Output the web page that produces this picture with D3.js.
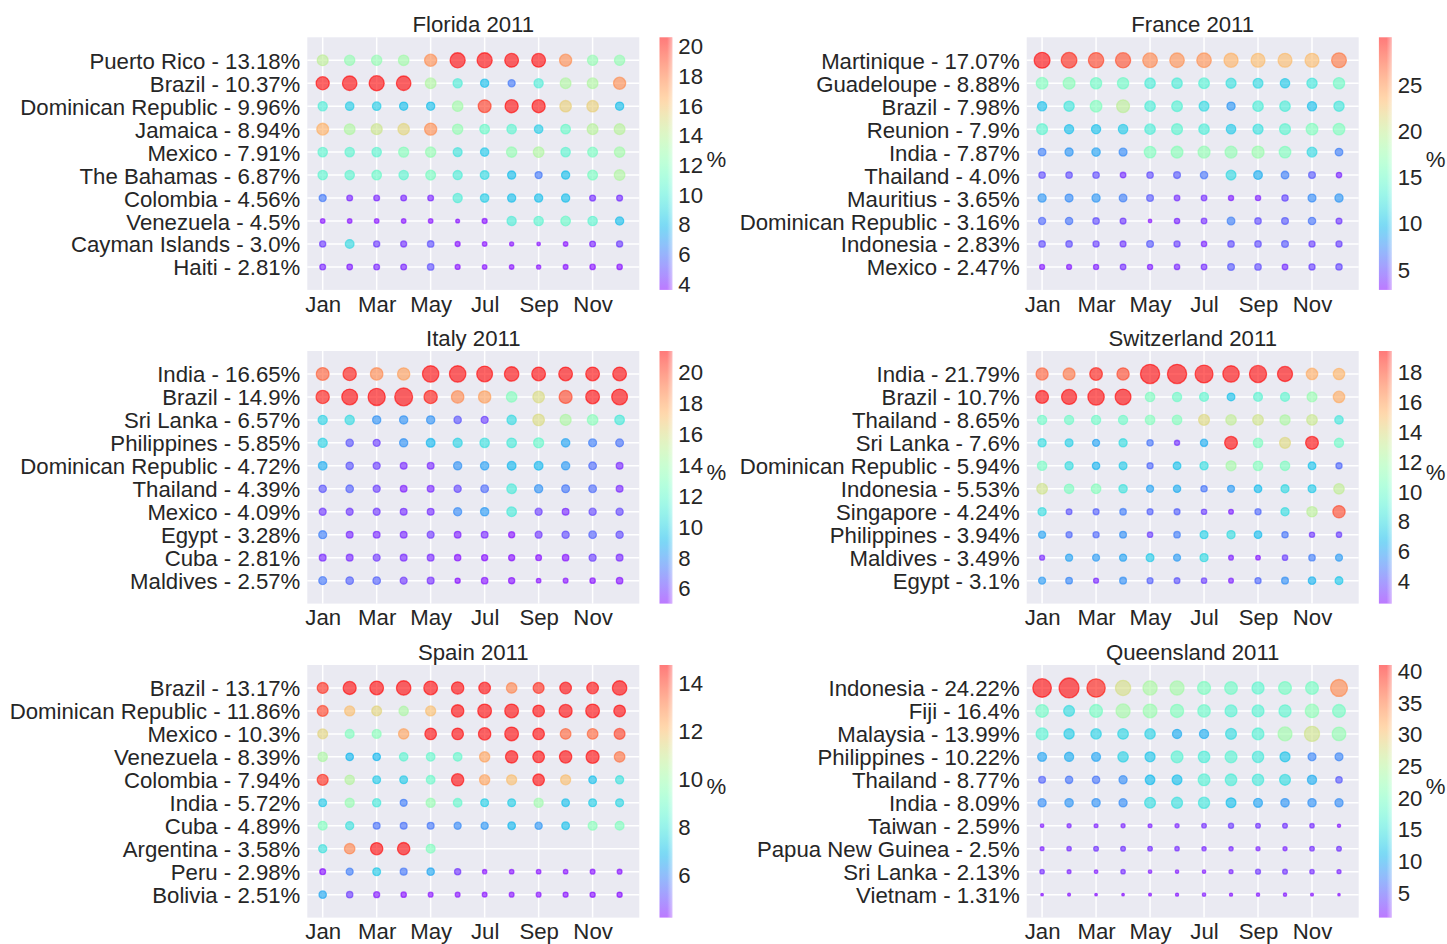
<!DOCTYPE html>
<html><head><meta charset="utf-8">
<script src="https://cdn.jsdelivr.net/npm/d3@7"></script>
<style>
body{margin:0;background:#fff}
svg{display:block}
text{font-family:"Liberation Sans",Arial,Helvetica,sans-serif;fill:#262626}
</style>
</head><body>
<svg id="chart" width="1447" height="944"></svg>
<script>
const months = ["Jan","Feb","Mar","Apr","May","Jun","Jul","Aug","Sep","Oct","Nov","Dec"];
const monthTickIdx = [0,2,4,6,8,10];

// ---------- Florida ----------
const floridaLabels = ["Puerto Rico - 13.18%","Brazil - 10.37%","Dominican Republic - 9.96%","Jamaica - 8.94%","Mexico - 7.91%","The Bahamas - 6.87%","Colombia - 4.56%","Venezuela - 4.5%","Cayman Islands - 3.0%","Haiti - 2.81%"];
const floridaValues = [
  [14,12.5,12.5,13,17.5,27,27,22.5,22.5,17.5,12.5,12.5],
  [20.5,25,27,25,13.5,10,8,6,10,13.5,13.5,17.5],
  [10,8.5,8.5,8,8,13,19.5,20.5,20.5,15.5,15.5,8],
  [16.5,13.5,14.5,15.3,17.5,12.5,11,10.5,8.5,11,13.8,13.8],
  [10.5,10.5,10.5,12,12.5,9.5,8.3,12.5,13.5,10.5,11.5,13],
  [10.5,10.5,11,10.5,11.5,10,9,8,6,8,11.5,13.5],
  [6,4,4,4,4,10,8.5,8,8,8,4.2,4.2],
  [2.5,2.5,2.5,2.5,2.5,1.8,3,10,10.5,11,10.5,8],
  [4.5,9,4.5,4.3,5,3,2.5,2,1.5,2.5,4,4.5],
  [4,3.8,4,4,5,3,2.5,2.5,2.2,2.8,3.5,3.5]
];
const floridaRange = [3.55, 20.56];
const floridaTicks = [4,6,8,10,12,14,16,18,20];

// ---------- France ----------
const franceLabels = ["Martinique - 17.07%","Guadeloupe - 8.88%","Brazil - 7.98%","Reunion - 7.9%","India - 7.87%","Thailand - 4.0%","Mauritius - 3.65%","Dominican Republic - 3.16%","Indonesia - 2.83%","Mexico - 2.47%"];
const franceValues = [
  [30,29,28,27.5,25.5,25,25,23.5,23,23,23,26],
  [16,16.5,15,15,13,13,13.5,12,11.5,10.5,12.5,15],
  [10,12.5,16,19.5,13,13.5,11.5,8,13,13,10,12.5],
  [14,10,10,10.5,13,14,13,10.5,12,14,16,16],
  [7,8,8.5,7.5,16,16.5,17,17,17.5,16,11.5,7],
  [5,5,5,3.8,5,5.5,6.5,11.5,9,7,5.5,3.5],
  [8,7.5,8,7,5.5,3.8,3.8,3.2,3.3,4.8,7.5,8],
  [6,6.5,5,4.2,1.5,3.5,3.8,7,5,5.5,6.5,4.2],
  [5,5,4.5,4.2,5.5,4.5,3.5,5,5,5.5,4.5,4.5],
  [3,3,3.2,3.8,3.2,3.5,3.8,5.5,5,3.8,4.5,4.8]
];
const franceRange = [2.77, 30.05];
const franceTicks = [5,10,15,20,25];

// ---------- Italy ----------
const italyLabels = ["India - 16.65%","Brazil - 14.9%","Sri Lanka - 6.57%","Philippines - 5.85%","Dominican Republic - 4.72%","Thailand - 4.39%","Mexico - 4.09%","Egypt - 3.28%","Cuba - 2.81%","Maldives - 2.57%"];
const italyValues = [
  [19.5,21,18.5,18,32,32,29.7,24.8,22.4,22.4,22.4,22.4],
  [21,29.7,35,38,21,18.5,18,13,16,20,22.4,29.7],
  [10,10.3,8,8,8,6.5,6,10.3,16,14.5,13.2,11],
  [10,6.5,6,8,9,10,10.5,11,12,8.5,7.5,7.2],
  [8.7,6.5,6,5.5,5.5,8,8.3,9,9,8.2,7,5.5],
  [6.5,6.8,6,5.3,5.5,6.2,7,11,8,7.3,7,5.5],
  [5.8,5.8,5.8,5.6,5.6,7.8,8.2,11,6,5.5,6.2,6.2],
  [7.5,5.5,5.5,5.5,5.8,5.3,5.5,4.5,5.8,6.3,6.8,6.3],
  [5.5,5.5,5.8,5.5,5.5,4.8,4.5,4.5,4,5,6,5.5],
  [7.3,6.8,6.8,5.8,5.6,3.2,5,4.6,2.5,2.8,3.5,5]
];
const italyRange = [4.99, 21.34];
const italyTicks = [6,8,10,12,14,16,18,20];

// ---------- Switzerland ----------
const switzerlandLabels = ["India - 21.79%","Brazil - 10.7%","Thailand - 8.65%","Sri Lanka - 7.6%","Dominican Republic - 5.94%","Indonesia - 5.53%","Singapore - 4.24%","Philippines - 3.94%","Maldives - 3.49%","Egypt - 3.1%"];
const switzerlandValues = [
  [17.5,17,19,18,44,44,38,32,35,27,15.5,15.3],
  [19.5,27,32,29.7,10.5,10,9.5,7,9.3,9.5,11.5,15.5],
  [10,10,10,10,10.7,10.7,14,13,13.5,12.3,13.3,8.5],
  [8,7.5,6,8,4.8,3.2,6.3,19.5,10.5,14,19.5,10],
  [10.3,8,6.5,7.3,4.5,7,8,12,10.7,10.5,7,4.5],
  [13.5,10.5,10.8,8.3,6,6.3,4.8,5.8,6.8,7.8,7.3,13],
  [8,4,4.3,5,4.3,4.3,3.5,2.8,4.5,8,12.8,18],
  [6,4.5,4.5,5.5,3.5,5,7.5,8,6.8,4.8,3.3,3.5],
  [3,6,5.8,6,7.3,5.8,7.8,2.8,2.6,3.5,5,5.8],
  [5.8,5.3,3,5.5,4.3,4,3.5,2.8,4.5,5.5,6.5,7.2]
];
const switzerlandRange = [2.46, 19.4];
const switzerlandTicks = [4,6,8,10,12,14,16,18];

// ---------- Spain ----------
const spainLabels = ["Brazil - 13.17%","Dominican Republic - 11.86%","Mexico - 10.3%","Venezuela - 8.39%","Colombia - 7.94%","India - 5.72%","Cuba - 4.89%","Argentina - 3.58%","Peru - 2.98%","Bolivia - 2.51%"];
const spainValues = [
  [14.3,20.2,22.4,24.8,22.4,18.2,16.2,13,14.3,16.2,16.2,24.8],
  [14,12,11.5,10.3,12,18.2,22.4,22.4,16.2,20.2,22.4,16.2],
  [11.5,9.3,9.5,12.5,16,16,18.2,22.4,16,13.5,13.5,14],
  [10.3,6.8,6.8,8.5,8.7,8.7,12.5,18,16.2,18.2,20.2,13.3],
  [14.3,10.5,7.2,7.2,8.8,18,12.5,12,16,12,7,7.8],
  [7.2,9.8,8,5.8,9.8,8.7,7.3,7.3,10,7,7.3,7.5],
  [9.3,7.8,5.6,5.6,5.7,6,6.2,6.8,6.2,7,9.5,9.3],
  [7.8,13,18,18.2,9.3,null,null,null,null,null,null,null],
  [4,5.8,7.2,5.7,6.5,4.7,2.2,2.5,2.5,2.5,2.8,2.8],
  [6.5,4.8,4.3,3.5,2.8,2.8,2.7,2.8,2.8,3,3.2,3.2]
];
const spainRange = [4.2, 14.75];
const spainTicks = [6,8,10,12,14];

// ---------- Queensland ----------
const queenslandLabels = ["Indonesia - 24.22%","Fiji - 16.4%","Malaysia - 13.99%","Philippines - 10.22%","Thailand - 8.77%","India - 8.09%","Taiwan - 2.59%","Papua New Guinea - 2.5%","Sri Lanka - 2.13%","Vietnam - 1.31%"];
const queenslandValues = [
  [41,47,40,27.5,24,23.5,20,19,17.5,19.5,19.5,34],
  [19,14,19.5,23.5,22.5,20.5,18.5,17,17,17.5,21.5,19.5],
  [17,12.5,13,13.5,13,10,10,14,16.5,23,27,22],
  [9.5,10,9.5,13,12,17,16,17,15.5,12,7.5,7.5],
  [5.5,6.5,6.5,8,11,11.5,16.5,16,15.5,14,10,5],
  [8,8.5,8.3,8,14,14.5,15,11.5,9.5,8.5,8.3,8],
  [1.5,2,1.8,2,1.8,2,2.6,3.2,2.8,2.8,2.4,1.3],
  [1.8,2.4,2.8,2.8,2.6,2.4,2.2,2.2,2,2,2.6,2.8],
  [2.4,1.8,1.6,2.4,1.5,1.4,1.4,2,3,2.8,2.4,2],
  [0.8,1,0.8,0.8,1,1.2,1.4,1.2,1.3,1.3,1,0.7]
];
const queenslandRange = [0.99, 40.9];
const queenslandTicks = [5,10,15,20,25,30,35,40];

const panels = [
  {title:"Florida 2011", labels:floridaLabels, values:floridaValues, range:floridaRange, ticks:floridaTicks},
  {title:"France 2011", labels:franceLabels, values:franceValues, range:franceRange, ticks:franceTicks},
  {title:"Italy 2011", labels:italyLabels, values:italyValues, range:italyRange, ticks:italyTicks},
  {title:"Switzerland 2011", labels:switzerlandLabels, values:switzerlandValues, range:switzerlandRange, ticks:switzerlandTicks},
  {title:"Spain 2011", labels:spainLabels, values:spainValues, range:spainRange, ticks:spainTicks},
  {title:"Queensland 2011", labels:queenslandLabels, values:queenslandValues, range:queenslandRange, ticks:queenslandTicks}
];

// matplotlib "rainbow" colormap
function rainbow(t){
  t = Math.max(0, Math.min(1, t));
  const r = Math.min(1, Math.abs(2*t - 0.5));
  const g = Math.sin(Math.PI*t);
  const b = Math.cos(Math.PI*t/2);
  return d3.rgb(Math.round(r*255), Math.round(g*255), Math.round(b*255)).formatHex();
}

const svg = d3.select("#chart");
const defs = svg.append("defs");
const colLeft = [307.3, 1026.7];
const rowTop = [37.3, 351, 665];
const W = 332, H = 252.6;
const FS = 22.2;
const FONT = '"Liberation Sans",Arial,sans-serif';

panels.forEach((p, idx) => {
  const L = colLeft[idx % 2], T = rowTop[Math.floor(idx / 2)];
  const g = svg.append("g");
  const x = d3.scaleLinear().domain([-0.57, 11.73]).range([L, L + W]);
  const y = d3.scaleLinear().domain([-1, 10]).range([T, T + H]);
  const c = d3.scaleLinear().domain(p.range).range([0, 1]);

  g.append("rect").attr("x", L).attr("y", T).attr("width", W).attr("height", H).attr("fill", "#EAEAF2");

  // grid
  g.append("g").selectAll("line").data(monthTickIdx).join("line")
    .attr("x1", d => x(d)).attr("x2", d => x(d)).attr("y1", T).attr("y2", T + H)
    .attr("stroke", "#fff").attr("stroke-width", 1.5);
  g.append("g").selectAll("line").data(d3.range(p.labels.length)).join("line")
    .attr("x1", L).attr("x2", L + W).attr("y1", d => y(d)).attr("y2", d => y(d))
    .attr("stroke", "#fff").attr("stroke-width", 1.5);

  // axes
  const xa = g.append("g").attr("transform", `translate(0,${T + H})`)
    .call(d3.axisBottom(x).tickValues(monthTickIdx).tickFormat(i => months[i]).tickSize(0).tickPadding(6));
  xa.select(".domain").remove();
  xa.selectAll("text").attr("font-size", FS).attr("fill", "#262626").style("font-family", FONT);

  const ya = g.append("g").attr("transform", `translate(${L},0)`)
    .call(d3.axisLeft(y).tickValues(d3.range(p.labels.length)).tickFormat(i => p.labels[i]).tickSize(0).tickPadding(7));
  ya.select(".domain").remove();
  ya.selectAll("text").attr("font-size", FS).attr("fill", "#262626").attr("dy", "0.36em").style("font-family", FONT);

  // points
  const pts = [];
  p.values.forEach((row, j) => row.forEach((v, i) => { if (v !== null) pts.push({i, j, v}); }));
  g.append("g").selectAll("circle").data(pts).join("circle")
    .attr("cx", d => x(d.i)).attr("cy", d => y(d.j))
    .attr("r", d => 1.45 * Math.sqrt(d.v))
    .attr("fill", d => rainbow(c(d.v))).attr("fill-opacity", 0.6)
    .attr("stroke", d => rainbow(c(d.v))).attr("stroke-opacity", 0.6).attr("stroke-width", 1.3);

  // title
  g.append("text").attr("x", L + W / 2).attr("y", T - 5).attr("text-anchor", "middle")
    .attr("font-size", FS).style("font-family", FONT).text(p.title);

  // colorbar
  const cbX = L + W + 20.2, cbW = 12.8;
  const gid = "grad" + idx;
  const grad = defs.append("linearGradient").attr("id", gid).attr("x1", 0).attr("y1", 1).attr("x2", 0).attr("y2", 0);
  d3.range(0, 1.0001, 0.02).forEach(t => grad.append("stop").attr("offset", t).attr("stop-color", rainbow(t)));
  g.append("rect").attr("x", cbX).attr("y", T).attr("width", cbW).attr("height", H)
    .attr("fill", `url(#${gid})`).attr("fill-opacity", 0.52);
  const sh = "shade" + idx;
  const sg = defs.append("linearGradient").attr("id", sh).attr("x1", 0).attr("y1", 0).attr("x2", 1).attr("y2", 0);
  sg.append("stop").attr("offset", 0.6).attr("stop-color", "#fff").attr("stop-opacity", 0);
  sg.append("stop").attr("offset", 1).attr("stop-color", "#fff").attr("stop-opacity", 0.45);
  g.append("rect").attr("x", cbX).attr("y", T).attr("width", cbW).attr("height", H).attr("fill", `url(#${sh})`);

  const cy = d3.scaleLinear().domain(p.range).range([T + H, T]);
  const ca = g.append("g").attr("transform", `translate(${cbX + cbW},0)`)
    .call(d3.axisRight(cy).tickValues(p.ticks).tickFormat(d3.format("d")).tickSize(0).tickPadding(6));
  ca.select(".domain").remove();
  ca.selectAll("text").attr("font-size", FS).attr("fill", "#262626").attr("dy", "0.36em").style("font-family", FONT);

  g.append("text").attr("x", cbX + cbW + 44).attr("y", T + H / 2 + 3).attr("text-anchor", "middle")
    .attr("font-size", FS).style("font-family", FONT).text("%");
});
</script>
</body></html>
